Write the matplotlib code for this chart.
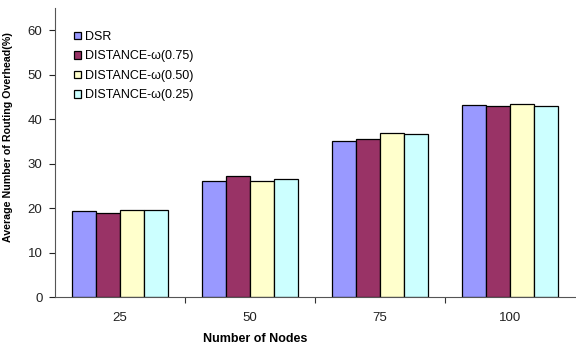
import matplotlib
matplotlib.use("Agg")
import matplotlib.pyplot as plt
import numpy as np
from matplotlib.ticker import FixedLocator, NullFormatter

plt.rcParams['font.family'] = ['Liberation Sans', 'DejaVu Sans']

nodes = ["25", "50", "75", "100"]
series_names = ["DSR", "DISTANCE-\u03c9(0.75)", "DISTANCE-\u03c9(0.50)", "DISTANCE-\u03c9(0.25)"]
dsr = [19.4, 26.1, 35.1, 43.1]
dist_075 = [19.0, 27.2, 35.6, 42.9]
dist_050 = [19.6, 26.1, 36.9, 43.5]
dist_025 = [19.6, 26.6, 36.7, 42.9]
colors = ["#9999FF", "#993366", "#FFFFCC", "#CCFFFF"]

fig = plt.figure(figsize=(5.76, 3.46), dpi=100)
ax = fig.add_axes([0.0955, 0.1416, 0.902, 0.835])

x = np.arange(len(nodes))
width = 0.185
all_series = [dsr, dist_075, dist_050, dist_025]
for i, (vals, name, c) in enumerate(zip(all_series, series_names, colors)):
    ax.bar(x + (i - 1.5) * width, vals, width, color=c, edgecolor="black",
           linewidth=0.9, label=name)

ax.set_xlim(-0.5, 3.5)
ax.set_ylim(0, 65)
ax.set_yticks([0, 10, 20, 30, 40, 50, 60])
ax.set_xticks(x)
ax.set_xticklabels(nodes)
ax.xaxis.set_minor_locator(FixedLocator([0.5, 1.5, 2.5]))
ax.xaxis.set_minor_formatter(NullFormatter())
ax.tick_params(axis='x', which='major', length=0, pad=11, labelsize=9.5, colors="#222222")
ax.tick_params(axis='x', which='minor', length=4, width=0.8, color="#333333")
ax.tick_params(axis='y', length=4, width=0.8, labelsize=9.5, pad=5, colors="#222222")

for s in ["top", "right"]:
    ax.spines[s].set_visible(False)
ax.spines["left"].set_color("#555555")
ax.spines["bottom"].set_color("#555555")

ax.set_xlabel("Number of Nodes", fontsize=9, fontweight="bold")
ax.xaxis.set_label_coords(0.385, -0.125)
ax.set_ylabel("Average Number of Routing Overhead(%)", fontsize=7.7, fontweight="bold")
ax.yaxis.set_label_coords(-0.08, 0.553)

leg = ax.legend(loc="upper left", bbox_to_anchor=(0.015, 0.96), frameon=False,
                fontsize=9, handlelength=0.55, handleheight=0.55,
                handletextpad=0.3, labelspacing=0.6)

fig.savefig("out.png", dpi=100)
